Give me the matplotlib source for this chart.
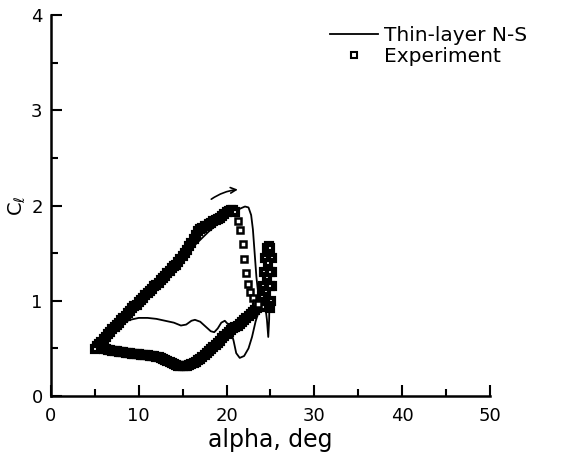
import numpy as np
import matplotlib
matplotlib.use("Agg")
import matplotlib.pyplot as plt
from matplotlib.lines import Line2D

# experiment, upstroke (thick band of overlapping squares)
up_alpha = [5.25, 5.5, 5.75, 6.0, 6.25, 6.5, 6.75, 7.0, 7.25, 7.5, 7.75, 8.0, 8.25, 8.5, 8.75,
            9.0, 9.25, 9.5, 9.75, 10.0, 10.25, 10.5, 10.75, 11.0, 11.25, 11.5, 11.75, 12.0,
            12.25, 12.5, 12.75, 13.0, 13.25, 13.5, 13.75, 14.0, 14.25, 14.5, 14.75, 15.0,
            15.25, 15.5, 15.75, 16.0, 16.25, 16.5, 16.75, 17.0, 17.25, 17.5, 17.75, 18.0,
            18.25, 18.5, 18.75, 19.0, 19.25, 19.5, 19.75, 20.0, 20.25, 20.5, 20.75, 21.0]
up_cl = [0.52, 0.55, 0.57, 0.60, 0.62, 0.65, 0.67, 0.70, 0.72, 0.75, 0.77, 0.80, 0.82, 0.84, 0.87,
         0.89, 0.92, 0.94, 0.96, 0.99, 1.01, 1.03, 1.06, 1.08, 1.10, 1.12, 1.15, 1.17,
         1.19, 1.22, 1.24, 1.26, 1.29, 1.31, 1.34, 1.36, 1.38, 1.41, 1.44, 1.47,
         1.50, 1.53, 1.57, 1.61, 1.65, 1.69, 1.73, 1.75, 1.76, 1.78, 1.79, 1.81,
         1.82, 1.84, 1.85, 1.86, 1.87, 1.89, 1.91, 1.93, 1.94, 1.95, 1.95, 1.93]

# experiment, stall (open squares falling off)
stall_alpha = [21.3, 21.5, 21.9, 22.0, 22.2, 22.4, 22.7, 23.0, 23.3, 23.6]
stall_cl = [1.84, 1.74, 1.60, 1.44, 1.29, 1.18, 1.09, 1.03, 0.98, 0.97]

# experiment, oscillation near alpha max
osc_alpha = [23.8, 24.0, 24.2, 24.3, 24.4, 24.6, 24.8, 25.0, 25.2, 25.2, 25.2, 25.1,
             24.9, 24.6, 24.5, 24.6, 24.7, 24.9, 25.0, 24.4, 24.2]
osc_cl = [0.95, 1.05, 1.15, 1.30, 1.45, 1.55, 1.57, 1.55, 1.45, 1.30, 1.15, 1.00,
          0.92, 0.95, 1.10, 1.25, 1.40, 1.30, 1.15, 0.95, 0.93]

# experiment, downstroke
down_alpha = [24.0, 23.75, 23.5, 23.25, 23.0, 22.75, 22.5, 22.25, 22.0, 21.75, 21.5, 21.25,
              21.0, 20.75, 20.5, 20.25, 20.0, 19.75, 19.5, 19.25, 19.0, 18.75, 18.5, 18.25,
              18.0, 17.75, 17.5, 17.25, 17.0, 16.75, 16.5, 16.25, 16.0, 15.75, 15.5, 15.25,
              15.0, 14.75, 14.5, 14.25, 14.0, 13.75, 13.5, 13.25, 13.0, 12.75, 12.5, 12.25,
              12.0, 11.75, 11.5, 11.25, 11.0, 10.75, 10.5, 10.25, 10.0, 9.75, 9.5, 9.25,
              9.0, 8.75, 8.5, 8.25, 8.0, 7.75, 7.5, 7.25, 7.0, 6.75, 6.5, 6.25, 6.0,
              5.75, 5.5, 5.25, 5.0]
down_cl = [0.95, 0.94, 0.92, 0.90, 0.88, 0.86, 0.84, 0.82, 0.80, 0.78, 0.76, 0.74,
           0.72, 0.71, 0.69, 0.67, 0.65, 0.63, 0.61, 0.58, 0.56, 0.54, 0.51, 0.49,
           0.47, 0.45, 0.43, 0.41, 0.39, 0.38, 0.36, 0.35, 0.34, 0.33, 0.32, 0.32,
           0.32, 0.32, 0.32, 0.33, 0.34, 0.35, 0.36, 0.37, 0.38, 0.39, 0.40, 0.41,
           0.41, 0.42, 0.42, 0.42, 0.43, 0.43, 0.43, 0.43, 0.44, 0.44, 0.44, 0.44,
           0.45, 0.45, 0.45, 0.46, 0.46, 0.46, 0.47, 0.47, 0.47, 0.48, 0.48, 0.49, 0.49,
           0.50, 0.50, 0.50, 0.49]

# thin-layer Navier-Stokes computation
ns_alpha = [5.3, 6.0, 7.0, 8.0, 9.0, 10.0, 11.0, 12.0, 13.0, 14.0, 15.0, 16.0, 17.0, 18.0,
            19.0, 20.0, 21.0, 21.6, 22.1, 22.5, 22.8, 23.0, 23.2, 23.4, 23.6, 23.9, 24.2,
            24.4, 24.6, 24.8, 24.9, 24.85, 24.75, 24.6, 24.4, 24.1, 23.7, 23.3, 22.9, 22.5,
            22.0, 21.5, 21.1, 20.8, 20.5, 20.2, 19.8, 19.4, 19.0, 18.6, 18.2, 17.6, 17.0,
            16.4, 16.0, 15.4, 14.8, 14.0, 13.0, 12.0, 11.0, 10.0, 9.0, 8.2, 7.4, 6.8, 6.2, 5.6]
ns_cl = [0.55, 0.62, 0.72, 0.82, 0.92, 1.01, 1.10, 1.18, 1.27, 1.36, 1.45, 1.55, 1.64, 1.73,
         1.81, 1.88, 1.94, 1.97, 1.99, 1.98, 1.90, 1.75, 1.50, 1.25, 1.08, 0.98, 1.15,
         1.40, 1.55, 1.45, 1.10, 0.80, 0.62, 0.80, 0.95, 0.98, 0.90, 0.78, 0.62, 0.50,
         0.42, 0.40, 0.45, 0.58, 0.68, 0.75, 0.79, 0.77, 0.71, 0.67, 0.68, 0.73, 0.78,
         0.80, 0.79, 0.75, 0.74, 0.77, 0.79, 0.81, 0.82, 0.82, 0.80, 0.77, 0.73, 0.68, 0.60, 0.55]

plt.rcParams['font.family'] = ['DejaVu Sans']
fig = plt.figure(figsize=(5.71, 4.58), dpi=100)
ax = fig.add_axes([0.0893, 0.1354, 0.7687, 0.8316])

ax.plot(ns_alpha, ns_cl, color='black', lw=1.3)
# dense branches: squares overlap into a solid band
ax.plot(up_alpha + down_alpha + osc_alpha, up_cl + down_cl + osc_cl, ls='none', marker='s',
        ms=5, mfc='white', mec='black', mew=3)
ax.plot(stall_alpha, stall_cl, ls='none', marker='s', ms=4, mfc='white', mec='black', mew=1.8)

ax.annotate('', xy=(21.6, 2.17), xytext=(18.0, 2.05),
            arrowprops=dict(arrowstyle='->', color='black', lw=1.2,
                            connectionstyle='arc3,rad=-0.15'))

ax.set_xlim(0, 50)
ax.set_ylim(0, 4)
ax.set_xticks([0, 10, 20, 30, 40, 50])
ax.set_xticks([5, 15, 25, 35, 45], minor=True)
ax.set_yticks([0, 1, 2, 3, 4])
ax.set_yticks([0.5, 1.5, 2.5, 3.5], minor=True)
ax.tick_params(which='both', direction='in', width=1.5, labelsize=13, color='black')
ax.tick_params(which='major', length=8)
ax.tick_params(which='minor', length=5)
ax.tick_params(axis='x', pad=8)
ax.tick_params(axis='y', pad=6)
for s in ['top', 'right']:
    ax.spines[s].set_visible(False)
for s in ['left', 'bottom']:
    ax.spines[s].set_linewidth(1.8)

ax.set_xlabel('alpha, deg', fontsize=17, labelpad=2)
ax.set_ylabel(r'C$_\ell$', fontsize=14, labelpad=2)

handles = [Line2D([], [], color='black', lw=1.3),
           Line2D([], [], ls='none', marker='s', ms=4, mfc='white', mec='black', mew=1.5)]
ax.legend(handles, ['Thin-layer N-S', 'Experiment'], loc='upper left',
          bbox_to_anchor=(330 / 571, 1 - 26 / 458), bbox_transform=fig.transFigure,
          frameon=False, fontsize=14.5, handlelength=2.4, handletextpad=0.3,
          labelspacing=0.1, borderaxespad=0, borderpad=0)

fig.savefig('out.png', dpi=100)
